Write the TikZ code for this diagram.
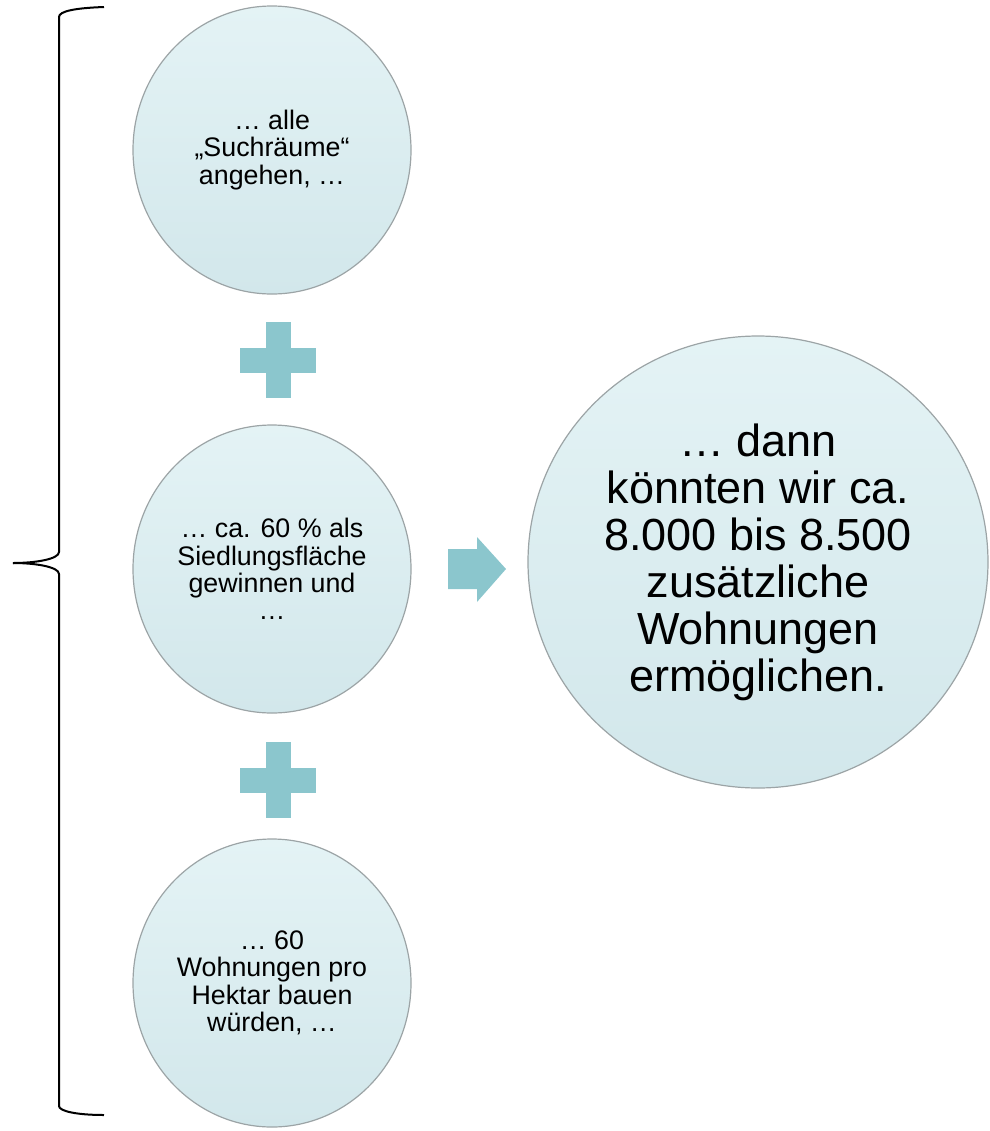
\documentclass[tikz,border=0pt]{standalone}
\usepackage{fontspec}
\setmainfont{Liberation Sans}
\usepackage{tikz}
\usepackage{xcolor}
\usetikzlibrary{shapes.geometric}

\definecolor{kreisoben}{HTML}{E4F3F5}
\definecolor{kreisunten}{HTML}{D2E7EB}
\definecolor{kreisrand}{HTML}{9CA4A6}
\definecolor{plusfarbe}{HTML}{8BC6CD}

\begin{document}
\begin{tikzpicture}[x=0.5pt,y=-0.5pt,
    kreis/.style={ellipse, draw=kreisrand, line width=0.6pt, top color=kreisoben, bottom color=kreisunten,
                  inner sep=0pt, align=center, minimum width=139pt, minimum height=144pt,
                  font=\fontsize{13.4}{13.7}\selectfont},
    grosskreis/.style={kreis, minimum width=230pt, minimum height=226pt, font=\fontsize{22.5}{23.5}\selectfont}]
                \useasboundingbox (0,0) rectangle (990,1131);
                % die drei Annahmen
                \node[kreis] (suche) at (272,150) {… alle\\„Suchräume“\\angehen, …};
                \node[kreis] (flaeche) at (272,569) {… ca. 60 \% als\\Siedlungsfläche\\gewinnen und\\…};
                \node[kreis] (dichte) at (272,983) {… 60\\Wohnungen pro\\Hektar bauen\\würden, …};
                \node[grosskreis] (ergebnis) at (758,562) {… dann\\könnten wir ca.\\8.000 bis 8.500\\zusätzliche\\Wohnungen\\ermöglichen.};
                % Pluszeichen
                \foreach \py in {360,780}{
                    \fill[plusfarbe] (278,\py) ++(-12.5,-38) rectangle ++(25,76);
                    \fill[plusfarbe] (278,\py) ++(-38,-12.5) rectangle ++(76,25);
                }
                % Pfeil
                \fill[plusfarbe] (448,549) -- (477,549) -- (477,537) -- (506,569) -- (477,602) -- (477,589) -- (448,589) -- cycle;
                % Klammer
                \draw[black, line width=1pt] (104,7) .. controls (76,8) and (59,11) .. (59,17) -- (59,552)
                    .. controls (59,559) and (36,563) .. (13,563);
                \draw[black, line width=1pt] (13,563) .. controls (36,563) and (59,567) .. (59,574) -- (59,1106)
                    .. controls (59,1111) and (76,1115) .. (104,1115);
            \end{tikzpicture}
\end{document}
